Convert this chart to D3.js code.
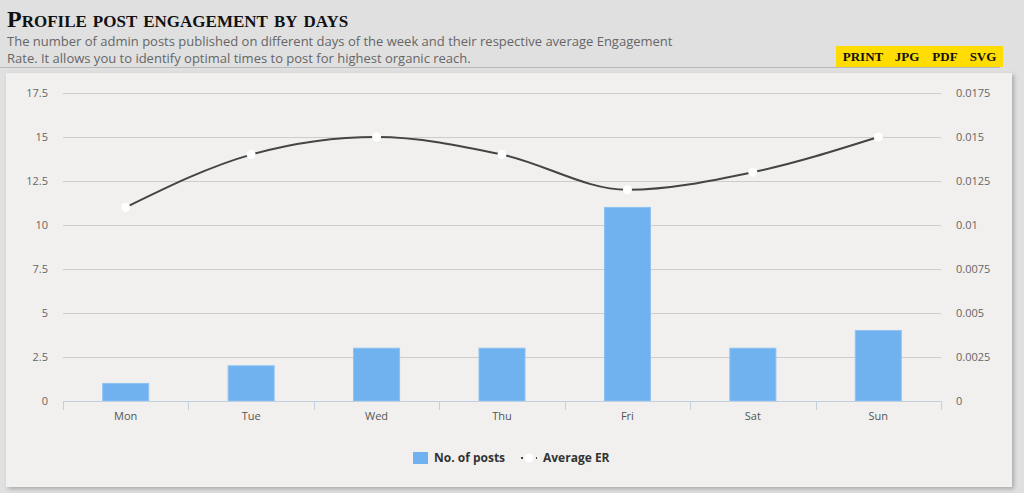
<!DOCTYPE html>
<html><head><meta charset="utf-8">
<script src="https://cdn.jsdelivr.net/npm/d3@7"></script>
<style>
body{margin:0;background:#e0e0e0;width:1024px;height:493px;overflow:hidden;font-family:"Open Sans",sans-serif;}
</style></head>
<body><svg id="c" width="1024" height="493"></svg>
<script>
const days = ["Mon","Tue","Wed","Thu","Fri","Sat","Sun"];
const posts = [1,2,3,3,11,3,4];
const avgER = [0.011,0.014,0.015,0.014,0.012,0.013,0.015];
const leftTicks = [0,2.5,5,7.5,10,12.5,15,17.5];
const rightTicks = [0,0.0025,0.005,0.0075,0.01,0.0125,0.015,0.0175];
const buttons = ["PRINT","JPG","PDF","SVG"];

const svg = d3.select("#c");
const defs = svg.append("defs");
const f = defs.append("filter").attr("id","sh").attr("x","-5%").attr("y","-5%").attr("width","110%").attr("height","115%");
f.append("feDropShadow").attr("dx",2).attr("dy",2).attr("stdDeviation",2).attr("flood-color","#000").attr("flood-opacity",0.25);

// Header
svg.append("text").attr("x",7).attr("y",27).attr("font-family","Liberation Serif, serif")
  .attr("font-weight","bold").attr("font-size",24).style("font-variant","small-caps").attr("fill","#111")
  .text("Profile post engagement by days");
svg.append("text").attr("x",7).attr("y",46).attr("font-size",13).attr("fill","#666")
  .text("The number of admin posts published on different days of the week and their respective average Engagement");
svg.append("text").attr("x",7).attr("y",63).attr("font-size",13).attr("fill","#666")
  .text("Rate. It allows you to identify optimal times to post for highest organic reach.");
svg.append("line").attr("x1",0).attr("x2",1000).attr("y1",67.5).attr("y2",67.5).attr("stroke","#b8b8b8");

// Buttons
svg.append("rect").attr("x",836).attr("y",46).attr("width",167).attr("height",21).attr("fill","#ffdd00");
const bx = [863,907,945,983];
buttons.forEach((b,i)=>svg.append("text").attr("x",bx[i]).attr("y",61).attr("text-anchor","middle")
  .attr("font-family","Liberation Serif, serif").attr("font-weight","bold").attr("font-size",13).attr("fill","#111").text(b));

// Panel
svg.append("rect").attr("x",6).attr("y",73).attr("width",1006).attr("height",414).attr("fill","#f1f0ee").attr("filter","url(#sh)");

const L=63,R=941,T=93,B=401;
const x = d3.scaleBand().domain(days).range([L,R]).paddingInner(0.635).paddingOuter(0.3175);
const xb = d3.scaleBand().domain(days).range([L,R]);
const yL = d3.scaleLinear().domain([0,17.5]).range([B,T]);
const yR = d3.scaleLinear().domain([0,0.0175]).range([B,T]);

// Grid
svg.append("g").selectAll("line").data(leftTicks.slice(1)).join("line")
  .attr("x1",L).attr("x2",R).attr("y1",d=>Math.round(yL(d))+0.5).attr("y2",d=>Math.round(yL(d))+0.5)
  .attr("stroke","#cfcdcb").attr("stroke-width",1);

// Left labels
svg.append("g").selectAll("text").data(leftTicks).join("text")
  .attr("x",48).attr("y",d=>yL(d)+4).attr("text-anchor","end").attr("font-size",11).attr("fill","#666")
  .text(d=>d);
// Right labels
svg.append("g").selectAll("text").data(rightTicks).join("text")
  .attr("x",956).attr("y",d=>yR(d)+4).attr("text-anchor","start").attr("font-size",11).attr("fill","#666")
  .text(d=>d);

// Bars
svg.append("g").selectAll("rect").data(days).join("rect")
  .attr("x",(d)=>xb(d)+xb.bandwidth()/2-23).attr("width",46)
  .attr("y",(d,i)=>yL(posts[i])).attr("height",(d,i)=>B-yL(posts[i]))
  .attr("fill","#6fb2ef").attr("stroke","#8cc2f2").attr("stroke-width",1);

// X axis
svg.append("line").attr("x1",L).attr("x2",R).attr("y1",B+0.5).attr("y2",B+0.5).attr("stroke","#c0d0e0");
const bounds = days.map(d=>xb(d)).concat([R]);
svg.append("g").selectAll("line").data(bounds).join("line")
  .attr("x1",d=>Math.round(d)+0.5).attr("x2",d=>Math.round(d)+0.5).attr("y1",B).attr("y2",B+9).attr("stroke","#c0d0e0");
svg.append("g").selectAll("text").data(days).join("text")
  .attr("x",d=>xb(d)+xb.bandwidth()/2).attr("y",B+19).attr("text-anchor","middle")
  .attr("font-size",11).attr("fill","#555").text(d=>d);

// Line
const line = d3.line().x((d,i)=>xb(days[i])+xb.bandwidth()/2).y(d=>yR(d)).curve(d3.curveMonotoneX);
svg.append("path").datum(avgER).attr("d",line).attr("fill","none").attr("stroke","#444").attr("stroke-width",2);
svg.append("g").selectAll("circle").data(avgER).join("circle")
  .attr("cx",(d,i)=>xb(days[i])+xb.bandwidth()/2).attr("cy",d=>yR(d)).attr("r",4.5).attr("fill","#fff");

// Legend
const lg = svg.append("g");
lg.append("rect").attr("x",413).attr("y",452).attr("width",15).attr("height",12).attr("fill","#6fb2ef");
lg.append("text").attr("x",434).attr("y",462).attr("font-size",12).attr("font-weight","bold").attr("fill","#333").text("No. of posts");
lg.append("line").attr("x1",521).attr("x2",537).attr("y1",458).attr("y2",458).attr("stroke","#444").attr("stroke-width",2).attr("stroke-dasharray","2,3");
lg.append("circle").attr("cx",529).attr("cy",458).attr("r",4.5).attr("fill","#fff");
lg.append("text").attr("x",543).attr("y",462).attr("font-size",12).attr("font-weight","bold").attr("fill","#333").text("Average ER");
</script></body></html>
